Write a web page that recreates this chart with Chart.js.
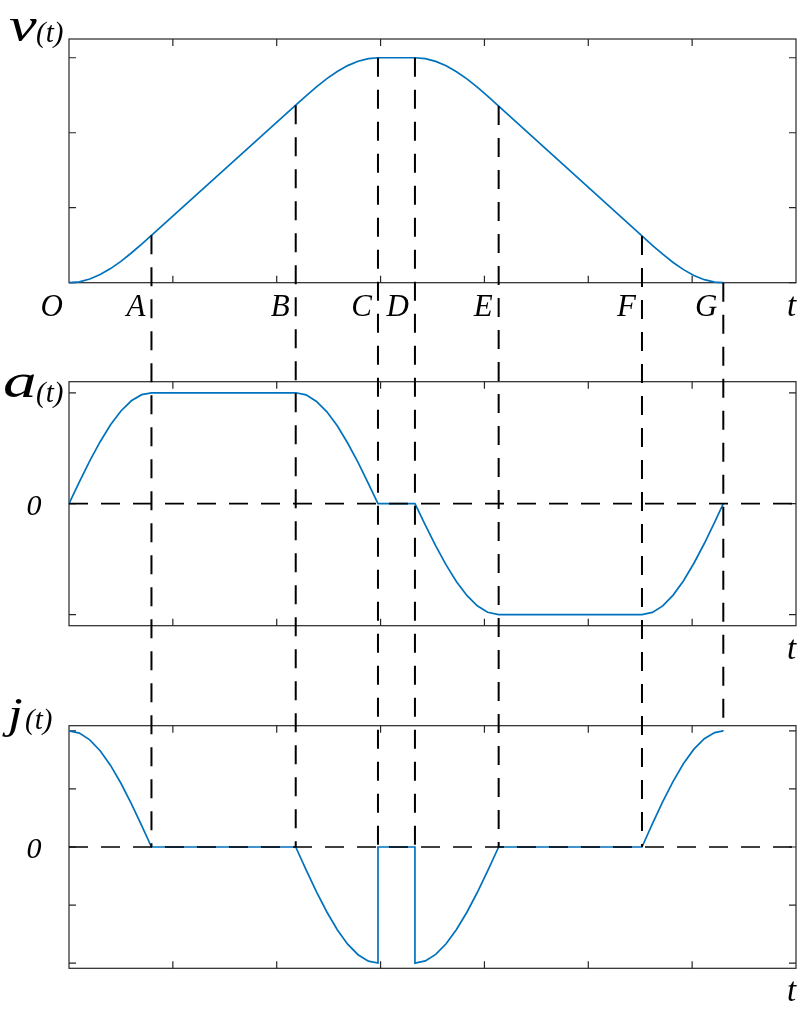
<!DOCTYPE html>
<html>
<head>
<meta charset="utf-8">
<title>v(t), a(t), j(t)</title>
<script src="https://cdn.jsdelivr.net/npm/chart.js@4"></script>
<style>
  html, body { margin: 0; padding: 0; background: #fff; }
  canvas { display: block; }
</style>
</head>
<body>
<canvas id="profileCanvas" width="802" height="1014"></canvas>
<script>
// =============================
// Données
// =============================
const tSamples = [0, 0.1, 0.2, 0.3, 0.4, 0.5, 0.6, 0.7, 0.794,
  2.183, 2.283, 2.383, 2.483, 2.583, 2.683, 2.783, 2.883, 2.975,
  3.331,
  3.431, 3.531, 3.631, 3.731, 3.831, 3.931, 4.031, 4.137,
  5.517, 5.617, 5.717, 5.817, 5.917, 6.017, 6.117, 6.217, 6.3];

const vValues = [0, 0.012, 0.049, 0.108, 0.188, 0.285, 0.396, 0.515, 0.632,
  2.368, 2.492, 2.611, 2.721, 2.817, 2.895, 2.953, 2.988, 3.0,
  3.0,
  2.988, 2.952, 2.893, 2.814, 2.718, 2.608, 2.488, 2.356,
  0.624, 0.499, 0.380, 0.270, 0.174, 0.096, 0.040, 0.007, 0];

const aValues = [0, 0.196, 0.386, 0.559, 0.711, 0.836, 0.928, 0.983, 1,
  1, 0.981, 0.922, 0.828, 0.702, 0.547, 0.372, 0.182, 0,
  0,
  -0.194, -0.380, -0.552, -0.703, -0.827, -0.920, -0.979, -1,
  -1, -0.980, -0.921, -0.824, -0.695, -0.537, -0.359, -0.166, 0];

// le jerk a deux sauts (en C et en D)
const tJerk = [0, 0.1, 0.2, 0.3, 0.4, 0.5, 0.6, 0.7, 0.794,
  2.183, 2.283, 2.383, 2.483, 2.583, 2.683, 2.783, 2.883, 2.975, 2.975,
  3.331, 3.331, 3.431, 3.531, 3.631, 3.731, 3.831, 3.931, 4.031, 4.137,
  5.517, 5.617, 5.717, 5.817, 5.917, 6.017, 6.117, 6.217, 6.3];

const jValues = [1, 0.981, 0.923, 0.829, 0.703, 0.549, 0.374, 0.185, 0,
  0, -0.197, -0.386, -0.560, -0.713, -0.837, -0.928, -0.983, -1, 0,
  0, -1, -0.981, -0.925, -0.834, -0.711, -0.562, -0.392, -0.205, 0,
  0, 0.199, 0.391, 0.566, 0.719, 0.843, 0.933, 0.986, 1];

const pointNames = ["O", "A", "B", "C", "D", "E", "F", "G"];
const pointTimes = [0, 0.794, 2.183, 2.975, 3.331, 4.137, 5.517, 6.3];
const dropEnds = [0, 0, 0, 0, 0, 0, 1]; // fin des pointillés dans j(t), pour A..G

const xTicks = [1, 2, 3, 4, 5, 6];
const vTicks = [0, 1, 2, 3];
const aTicks = [-1, 0, 1];
const jTicks = [-1, -0.5, 0, 0.5, 1];

// =============================
// Styles
// =============================
const BLUE = "#0072BD";
const INK = "#262626";
const SERIF = '"Liberation Serif", "Times New Roman", serif';
const TICK = 7;

const panels = [
  { id: "yv", ticks: vTicks, zero: false, name: "v", nameSize: 48, stretch: 1.3, nameX: 9, nameDy: 2, parX: 36, parDy: 3 },
  { id: "ya", ticks: aTicks, zero: true,  name: "a", nameSize: 48, stretch: 1.4, nameX: 3, nameDy: 15, parX: 36, parDy: 20 },
  { id: "yj", ticks: jTicks, zero: true,  name: "j", nameSize: 44, stretch: 1.2, nameX: 8, nameDy: 2, parX: 25, parDy: 3 }
];

function toPoints(ts, ys) {
  return ts.map((t, i) => ({ x: t, y: ys[i] }));
}

// =============================
// Cadres, graduations, pointillés, textes
// =============================
const figurePlugin = {
  id: "figure",
  beforeDatasetsDraw(chart) {
    const ctx = chart.ctx;
    const xs = chart.scales.x;
    ctx.save();
    ctx.strokeStyle = INK;
    ctx.lineWidth = 1.2;
    panels.forEach(p => {
      const ys = chart.scales[p.id];
      ctx.strokeRect(xs.left, ys.top, xs.right - xs.left, ys.bottom - ys.top);
      ctx.beginPath();
      xTicks.forEach(t => {
        const x = xs.getPixelForValue(t);
        ctx.moveTo(x, ys.top); ctx.lineTo(x, ys.top + TICK);
        ctx.moveTo(x, ys.bottom); ctx.lineTo(x, ys.bottom - TICK);
      });
      p.ticks.forEach(v => {
        const y = ys.getPixelForValue(v);
        ctx.moveTo(xs.left, y); ctx.lineTo(xs.left + TICK, y);
        ctx.moveTo(xs.right, y); ctx.lineTo(xs.right - TICK, y);
      });
      ctx.stroke();
    });
    ctx.restore();
  },
  afterDatasetsDraw(chart) {
    const ctx = chart.ctx;
    const xs = chart.scales.x;
    const yv = chart.scales.yv;
    const yj = chart.scales.yj;
    ctx.save();
    ctx.strokeStyle = "#000";
    ctx.setLineDash([19, 13]);

    // lignes horizontales du zéro
    ctx.lineWidth = 1.7;
    panels.filter(p => p.zero).forEach(p => {
      const y = chart.scales[p.id].getPixelForValue(0);
      ctx.beginPath();
      ctx.moveTo(xs.left, y);
      ctx.lineTo(xs.right, y);
      ctx.stroke();
    });

    // lignes verticales A..G
    ctx.lineWidth = 2;
    for (let i = 1; i < pointTimes.length; i++) {
      const t = pointTimes[i];
      const x = xs.getPixelForValue(t);
      const vTop = vValues[tSamples.indexOf(t)];
      ctx.beginPath();
      ctx.moveTo(x, yv.getPixelForValue(vTop));
      ctx.lineTo(x, yj.getPixelForValue(dropEnds[i - 1]));
      ctx.stroke();
    }
    ctx.restore();
  },
  afterDraw(chart) {
    const ctx = chart.ctx;
    const xs = chart.scales.x;
    ctx.save();
    ctx.fillStyle = "#000";
    ctx.textBaseline = "alphabetic";

    panels.forEach(p => {
      const ys = chart.scales[p.id];
      // nom de la courbe (lettre un peu élargie comme sur la figure)
      ctx.textAlign = "left";
      ctx.font = "italic " + p.nameSize + "px " + SERIF;
      ctx.save();
      ctx.translate(p.nameX, ys.top + p.nameDy);
      ctx.scale(p.stretch, 1);
      ctx.fillText(p.name, 0, 0);
      ctx.restore();
      ctx.font = "italic 29px " + SERIF;
      ctx.fillText("(t)", p.parX, ys.top + p.parDy);
      // axe du temps
      ctx.font = "italic 33px " + SERIF;
      ctx.fillText("t", xs.right - 9, ys.bottom + 33);
      // zéro
      if (p.zero) {
        ctx.textAlign = "center";
        ctx.font = "italic 30px " + SERIF;
        ctx.fillText("0", xs.left - 35, ys.getPixelForValue(0) + 11);
      }
    });

    // points O..G sous v(t)
    const yv = chart.scales.yv;
    ctx.textAlign = "right";
    ctx.font = "italic 31px " + SERIF;
    pointNames.forEach((n, i) => {
      ctx.fillText(n, xs.getPixelForValue(pointTimes[i]) - 6, yv.bottom + 33);
    });
    ctx.restore();
  }
};

// =============================
// Graphique
// =============================
const lineStyle = {
  borderColor: BLUE,
  borderWidth: 1.7,
  pointRadius: 0,
  fill: false,
  tension: 0,
  clip: 4
};

const chart = new Chart(document.getElementById("profileCanvas"), {
  type: "line",
  data: {
    datasets: [
      { label: "v(t)", data: toPoints(tSamples, vValues), yAxisID: "yv", ...lineStyle },
      { label: "a(t)", data: toPoints(tSamples, aValues), yAxisID: "ya", ...lineStyle },
      { label: "j(t)", data: toPoints(tJerk, jValues), yAxisID: "yj", ...lineStyle }
    ]
  },
  options: {
    responsive: false,
    animation: false,
    layout: { padding: { left: 69, right: 6, top: 39, bottom: 45.7 } },
    plugins: { legend: { display: false }, tooltip: { enabled: false } },
    scales: {
      x: { type: "linear", min: 0, max: 7, display: false },
      // empilés de bas en haut
      yj: { type: "linear", min: -1.045, max: 1.045, display: false, position: "left", stack: "panels", stackWeight: 242.6 },
      gap2: { type: "linear", min: 0, max: 1, display: false, position: "left", stack: "panels", stackWeight: 100 },
      ya: { type: "linear", min: -1.1, max: 1.1, display: false, position: "left", stack: "panels", stackWeight: 244 },
      gap1: { type: "linear", min: 0, max: 1, display: false, position: "left", stack: "panels", stackWeight: 99 },
      yv: { type: "linear", min: 0, max: 3.25, display: false, position: "left", stack: "panels", stackWeight: 243.7 }
    }
  },
  plugins: [figurePlugin]
});
</script>
</body>
</html>
